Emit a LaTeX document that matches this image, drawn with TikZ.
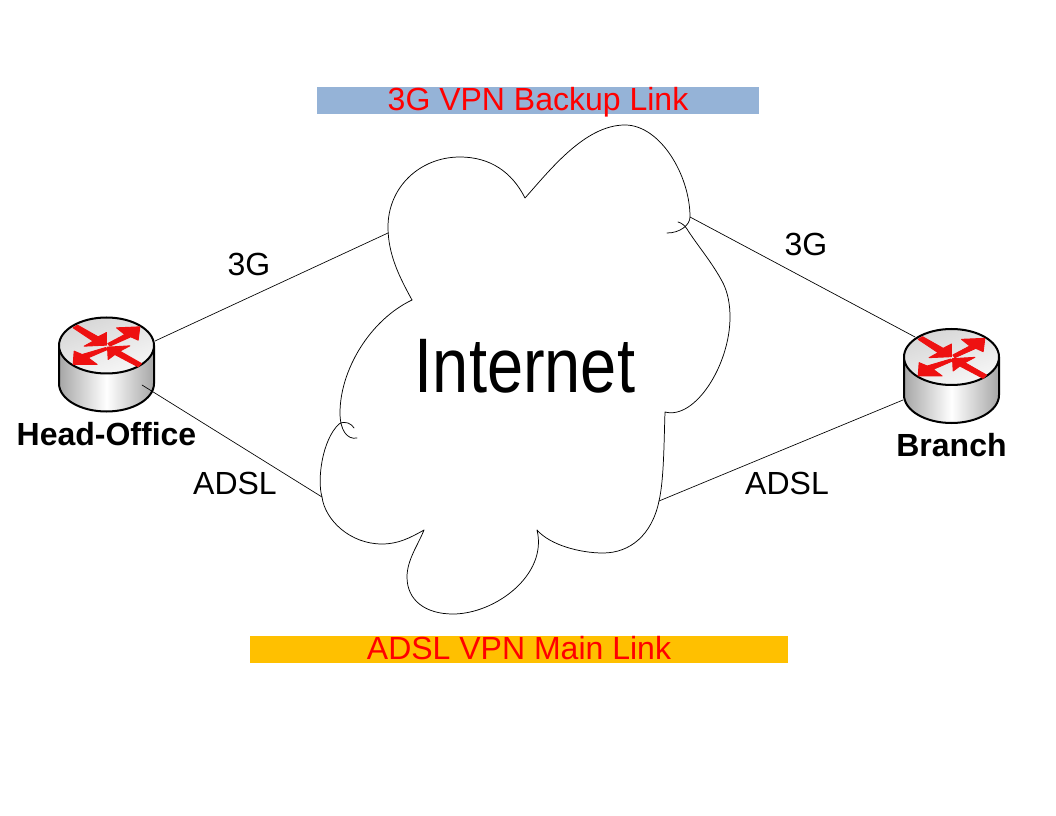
\documentclass[tikz,border=0pt]{standalone}
\usepackage{fontspec}
\setmainfont{Liberation Sans}
\definecolor{barblue}{HTML}{95B3D7}
\definecolor{barorange}{HTML}{FFC000}
\definecolor{arrowred}{HTML}{EE1111}
\tikzset{
 link/.style={draw=black,line width=.5pt},
 cloudline/.style={draw=black,line width=.55pt},
 lbl/.style={inner sep=0pt,font=\fontsize{24}{28}\selectfont},
 devlbl/.style={inner sep=0pt,font=\fontsize{24}{28}\selectfont\bfseries},
 bar/.style={inner sep=0pt,minimum height=20pt,text height=15pt,text depth=0pt,text=red,font=\fontsize{24}{28}\selectfont},
 redarrow/.style={fill=arrowred,draw=arrowred,line width=.7pt},
 router/.pic={
  \path[left color=black!35,right color=black!35,middle color=white,draw=black,line width=1.5pt]
   (-47.5,0)--(-47.5,38) arc[start angle=180,end angle=0,x radius=47.5,y radius=28]--(47.5,0)--cycle;
  \path[left color=black!16,right color=black!3,shading angle=20,draw=black,line width=1.5pt]
   (0,0) ellipse [x radius=47.5,y radius=28];
  \begin{scope}[scale=1/3]
   \path[redarrow] (-100,-53)--(-87,-61)--(-25,-26)--(0,-39)--(0,-1)--(-67,2)--(-40,-13)--cycle;
   \path[redarrow] (4,-6)--(55,-33)--(30,-53)--(100,-56)--(95,-16)--(73,-26)--(10,2)--cycle;
   \path[redarrow] (-2,6)--(3,12)--(-55,37)--(-28,57)--(-100,57)--(-97,17)--(-73,27)--cycle;
   \path[redarrow] (3,5)--(70,1)--(40,17)--(105,54)--(95,64)--(25,27)--(5,42)--cycle;
  \end{scope}
 }
}
\begin{document}
\begin{tikzpicture}[x=.75pt,y=-.75pt,line cap=round,line join=round]
 \useasboundingbox (0,0) rectangle (1056,816);
 % bars
 \node[bar,fill=barblue,minimum width=331.5pt] (backup) at (538,100.5) {3G VPN Backup Link};
 \node[bar,fill=barorange,minimum width=403.5pt] (mainlink) at (519,649.5) {ADSL VPN Main Link};
 % cloud
 \draw[cloudline] (412,300) .. controls (400,278) and (388,255) .. (388,227)
  .. controls (388,187) and (420,157) .. (460,157)
  .. controls (490,157) and (512,172) .. (525,198)
  .. controls (550,170) and (585,125) .. (625,125)
  .. controls (660,125) and (690,175) .. (690,217)
  .. controls (690,225) and (680,233) .. (667,233);
 \draw[cloudline] (678,222) .. controls (682,223) and (685,226) .. (687,229)
  .. controls (697,245) and (712,262) .. (723,283)
  .. controls (728,293) and (730,305) .. (730,317)
  .. controls (730,365) and (695,420) .. (665,412)
  .. controls (664,440) and (664,480) .. (659,501)
  .. controls (652,535) and (630,553) .. (603,553)
  .. controls (580,553) and (550,545) .. (537,530)
  .. controls (548,575) and (495,614) .. (453,614)
  .. controls (425,614) and (407,600) .. (407,577)
  .. controls (407,560) and (418,545) .. (424,530)
  .. controls (410,538) and (398,544) .. (382,544)
  .. controls (350,544) and (325,520) .. (322,497)
  .. controls (317,480) and (322,440) .. (339,424)
  .. controls (345,420) and (352,424) .. (354,428);
 \draw[cloudline] (357,438) .. controls (347,440) and (340,430) .. (340,413)
  .. controls (340,370) and (370,320) .. (412,300);
 \node[inner sep=0pt,xscale=.84,font=\fontsize{58}{60}\selectfont] (internet) at (525,366) {Internet};
 % routers
 \pic at (106.5,345.5) {router};
 \pic at (951.5,357) {router};
 \coordinate (hotop) at (155,341); \coordinate (hoside) at (142,385);
 \coordinate (brtop) at (915,337); \coordinate (brside) at (903,400);
 \coordinate (cloudnw) at (388,233); \coordinate (cloudsw) at (322,497);
 \coordinate (cloudne) at (690,217); \coordinate (cloudse) at (659,501);
 \draw[link] (hotop)--(cloudnw); \draw[link] (hoside)--(cloudsw);
 \draw[link] (brtop)--(cloudne); \draw[link] (brside)--(cloudse);
 % labels
 \node[devlbl] (headoffice) at (106.5,434.5) {Head-Office};
 \node[devlbl] (branch) at (951.5,445) {Branch};
 \node[lbl] (gleft) at (249,264) {3G};
 \node[lbl] (adslleft) at (235,483) {ADSL};
 \node[lbl] (gright) at (806,244) {3G};
 \node[lbl] (adslright) at (787,483) {ADSL};
\end{tikzpicture}
\end{document}
